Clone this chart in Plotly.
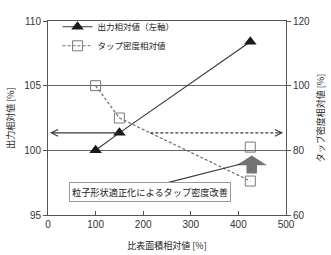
import plotly.graph_objects as go

# ---- data ----
surface_area = [100, 150, 425]          # 比表面積相対値 [%]
output_rel = [100.0, 101.35, 108.4]     # 出力相対値 [%] (left axis)
tap_rel = [100.0, 90.0, 70.5]           # タップ密度相対値 [%] (right axis)
improved_x = [425]
improved_tap = [81.0]

x_ticks = [0, 100, 200, 300, 400, 500]
yl_ticks = [95, 100, 105, 110]
yr_ticks = [60, 80, 100, 120]

FONT = "Liberation Sans, Arial, sans-serif"
CJK = "Noto Sans CJK JP, sans-serif"
LINE = "#3a3a3a"
GRAY = "#6e6e6e"

fig = go.Figure()

fig.add_trace(go.Scatter(
    x=surface_area, y=output_rel, mode="lines+markers",
    name="出力相対値（左軸）",
    line=dict(color=LINE, width=1.2),
    marker=dict(symbol="triangle-up", size=11, color="#1a1a1a"),
))
fig.add_trace(go.Scatter(
    x=surface_area, y=tap_rel, mode="lines+markers", yaxis="y2",
    name="タップ密度相対値",
    line=dict(color=GRAY, width=1.2, dash="3px,2px"),
    marker=dict(symbol="square-open", size=10, color="#7a7a7a", line=dict(width=1)),
))
fig.add_trace(go.Scatter(
    x=improved_x, y=improved_tap, mode="markers", yaxis="y2", showlegend=False,
    marker=dict(symbol="square-open", size=10, color="#7a7a7a", line=dict(width=1)),
))

# horizontal double arrow at the output level of the 2nd point
y_arrow = output_rel[1]
fig.add_annotation(x=4, y=y_arrow, ax=surface_area[1], ay=y_arrow,
                   xref="x", yref="y", axref="x", ayref="y",
                   showarrow=True, arrowhead=5, arrowsize=1.1, arrowwidth=1.2,
                   arrowcolor=LINE, text="")
fig.add_shape(type="line", x0=215, x1=488, y0=y_arrow, y1=y_arrow,
              xref="x", yref="y", line=dict(color=LINE, width=1.2, dash="3px,2px"))
fig.add_annotation(x=494, y=y_arrow, ax=-6, ay=0,
                   xref="x", yref="y",
                   showarrow=True, arrowhead=5, arrowsize=1.1, arrowwidth=1.2,
                   arrowcolor=LINE, text="")

# grey block arrow (improvement)
cx = 428
fig.add_shape(type="path", xref="x", yref="y",
              path=(f"M {cx-11},98.2 L {cx+11},98.2 L {cx+11},98.85 L {cx+32},98.85 "
                    f"L {cx},99.6 L {cx-32},98.85 L {cx-11},98.85 Z"),
              fillcolor="#737373", line=dict(width=0))

# leader line and text box
fig.add_shape(type="line", xref="x", yref="y", x0=235, y0=97.35, x1=405, y1=98.95,
              line=dict(color=LINE, width=1.1))
fig.add_annotation(x=214, y=96.77, xref="x", yref="y", showarrow=False,
                   text="粒子形状適正化によるタップ密度改善",
                   font=dict(family=CJK, size=9.2, color="#222"),
                   bgcolor="white", bordercolor="#999", borderwidth=1, borderpad=2)

axis_common = dict(showline=True, linecolor="#555", linewidth=1,
                   tickfont=dict(family=FONT, size=10, color="#333"),
                   ticklen=4, tickcolor="#555", zeroline=False, automargin=False)

fig.update_layout(
    width=331, height=255,
    margin=dict(l=48, r=45, t=13, b=40),
    paper_bgcolor="white", plot_bgcolor="white",
    showlegend=True,
    legend=dict(x=0.04, y=1.045, xanchor="left", yanchor="top",
                bgcolor="rgba(0,0,0,0)", font=dict(family=CJK, size=8.5, color="#222"),
                itemwidth=30, tracegroupgap=2),
    xaxis=dict(range=[0, 500], tickvals=x_ticks, ticks="inside", showgrid=False,
               mirror=True,
               title=dict(text="比表面積相対値 [%]", font=dict(family=CJK, size=9, color="#222"),
                          standoff=13),
               **axis_common),
    yaxis=dict(range=[95, 110], tickvals=yl_ticks, ticks="outside", showgrid=True,
               gridcolor="#666", gridwidth=1,
               title=dict(text="出力相対値 [%]", font=dict(family=CJK, size=9, color="#222"),
                          standoff=8),
               **axis_common),
    yaxis2=dict(range=[60, 120], tickvals=yr_ticks, ticks="outside", showgrid=False,
                overlaying="y", side="right",
                title=dict(text="タップ密度相対値 [%]", font=dict(family=CJK, size=9, color="#222"),
                           standoff=8),
                **axis_common),
)

fig.write_html("out.html")
